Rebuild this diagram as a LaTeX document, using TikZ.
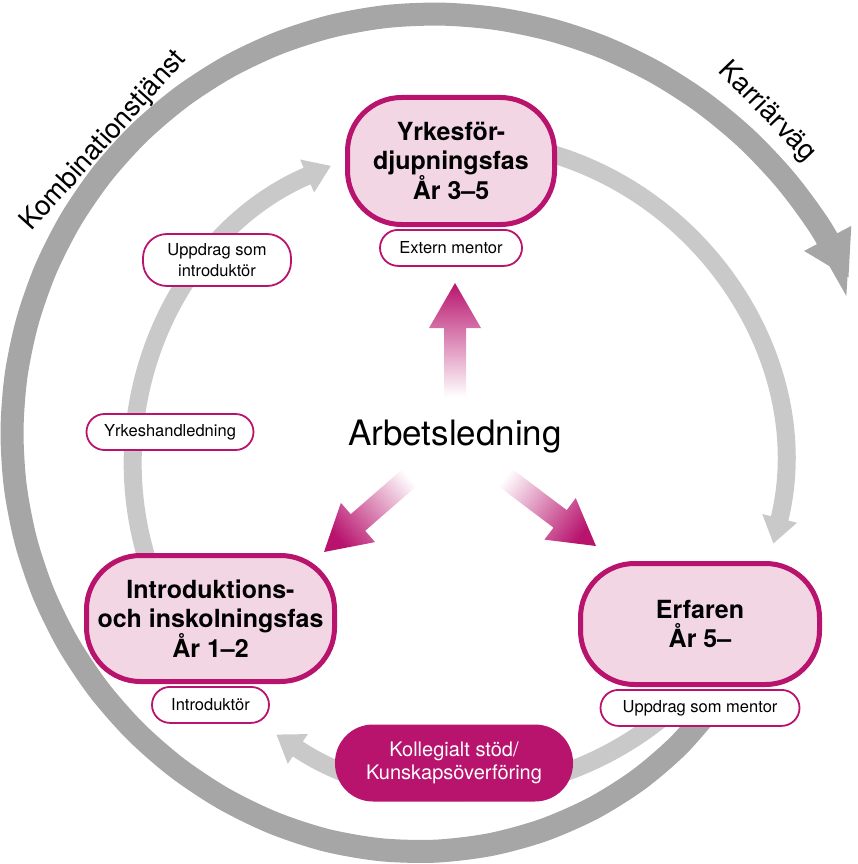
\documentclass[tikz,border=0pt]{standalone}
\usepackage{fontspec}
\setmainfont{TeX Gyre Heros}
\usetikzlibrary{arrows.meta, positioning, calc}

\definecolor{mag}{RGB}{184,20,110}
\definecolor{lightpink}{RGB}{242,214,228}
\definecolor{ringdark}{RGB}{166,166,166}
\definecolor{ringlight}{RGB}{201,201,201}

\tikzset{
	phase/.style={draw=mag, line width=5pt, fill=lightpink, rounded corners=54pt, align=center, inner sep=0pt, font=\bfseries\fontsize{25}{29}\selectfont},
	rolebox/.style={draw=mag, line width=1.8pt, fill=white, rounded corners=18pt, minimum height=36pt, align=center, inner sep=0pt, font=\fontsize{16.5}{21}\selectfont},
	outerring/.style={draw=ringdark, line width=23pt, -{Triangle[width=50pt, length=45pt]}},
	innerring/.style={draw=ringlight, line width=18pt, -{Triangle[width=34pt, length=26pt]}},
	ringlabel/.style={font=\fontsize{27.5}{27.5}\selectfont},
	declare function={ringr(\t)=420-31*(max(0,110-\t)/68)^2+0.00518*(max(0,\t-270))^2;}
}

% fat arrow with fade: tail, tip, shading angle
\newcommand{\gradarrow}[3]{%
	\coordinate (ga-b) at ($(#2)!45pt!(#1)$);
	\shade[top color=mag, bottom color=white, shading angle=#3]
		($(#1)!11pt!90:(#2)$) -- ($(ga-b)!11pt!-90:(#1)$) -- ($(ga-b)!26pt!-90:(#1)$) -- (#2)
		-- ($(ga-b)!26pt!90:(#1)$) -- ($(ga-b)!11pt!90:(#1)$) -- ($(#1)!11pt!-90:(#2)$) -- cycle;
}

\begin{document}
\begin{tikzpicture}[x=1pt, y=-1pt]
		\useasboundingbox (0,0) rectangle (858,864);

		% yttre ring (karriarvag)
		\draw[outerring] plot[smooth, domain=44:339.5, samples=40, variable=\t]
			({432+ringr(\t)*cos(\t)}, {434+ringr(\t)*sin(\t)});

		% inre ring
		\draw[innerring] (458,465) ++(160:325) arc[start angle=160, end angle=247, radius=325];
		\draw[innerring] (458,465) ++(-75:325) arc[start angle=-75, end angle=14, radius=325];
		\draw[innerring] (458,465) ++(50:325) arc[start angle=50, end angle=124, radius=325];

		% ring texter
		\node[ringlabel, rotate=48] (kombi) at (104,141) {Kombinationstjänst};
		\node[ringlabel, rotate=-46] (karriar) at (767,112) {Karriärväg};

		% arbetsledning
		\node[font=\fontsize{35}{35}\selectfont] (arb) at (455,437) {Arbetsledning};

		\coordinate (up-tail) at (455,397);
		\coordinate (up-tip) at (455,283);
		\coordinate (ll-tail) at (416,472);
		\coordinate (ll-tip) at (324,552);
		\coordinate (lr-tail) at (498,472);
		\coordinate (lr-tip) at (596,546);

		\gradarrow{up-tail}{up-tip}{0}
		\gradarrow{ll-tail}{ll-tip}{131}
		\gradarrow{lr-tail}{lr-tip}{-126}

		% faser
		\node[phase, minimum width=207pt, minimum height=127pt] (yrkes) at (451,161)
			{Yrkesför-\\djupningsfas\\År 3--5};
		\node[phase, minimum width=248pt, minimum height=126pt] (intro) at (210.5,618.5)
			{Introduktions-\\och inskolningsfas\\År 1--2};
		\node[phase, minimum width=239pt, minimum height=121pt] (erfaren) at (700,624)
			{Erfaren\\År 5--};

		% roller
		\node[rolebox, minimum width=142pt, below=2pt of yrkes] (extern) {Extern mentor};
		\node[rolebox, minimum width=117pt, below=2pt of intro] (introd) {Introduktör};
		\node[rolebox, minimum width=199pt, below=2pt of erfaren] (mentor) {Uppdrag som mentor};
		\node[rolebox, minimum width=167pt] (handl) at (170,432) {Yrkeshandledning};
		\node[rolebox, minimum width=148pt, minimum height=52pt, rounded corners=24pt] (uppintro) at (217,260)
			{Uppdrag som\\introduktör};

		% kollegialt stod
		\node[fill=mag, text=white, rounded corners=38pt, minimum width=238pt, minimum height=77pt,
			align=center, inner sep=0pt, font=\fontsize{20}{23}\selectfont] (kolleg) at (454,763)
			{Kollegialt stöd/\\Kunskapsöverföring};

\end{tikzpicture}
\end{document}
